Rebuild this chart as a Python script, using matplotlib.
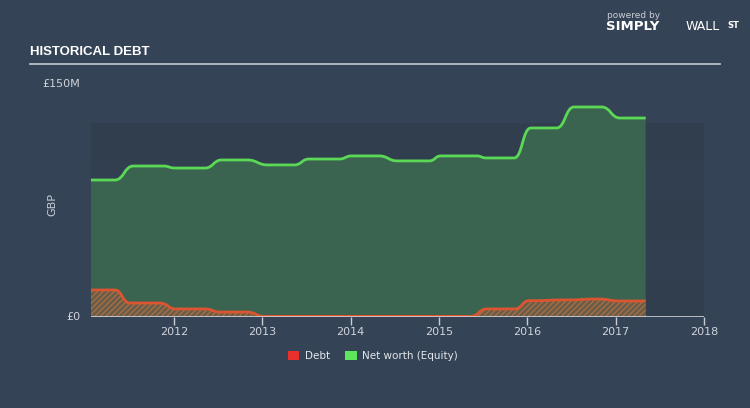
import matplotlib.pyplot as plt
from matplotlib.patches import Patch, PathPatch
from matplotlib.path import Path
import numpy as np

# historical debt vs equity, GBP millions
equity_dates = [2011.06, 2011.33, 2011.54, 2011.88, 2012.01, 2012.35, 2012.54, 2012.83,
                2013.06, 2013.36, 2013.53, 2013.87, 2014.01, 2014.32, 2014.53, 2014.89,
                2015.02, 2015.43, 2015.53, 2015.85, 2016.04, 2016.33, 2016.53, 2016.84,
                2017.05, 2017.34]
equity = [88.2, 88.2, 97.2, 97.2, 95.9, 95.9, 101.1, 101.1,
          97.9, 97.9, 101.7, 101.7, 103.7, 103.7, 100.5, 100.5,
          103.7, 103.7, 102.4, 102.4, 121.7, 121.7, 135.2, 135.2,
          128.1, 128.1]

debt_dates = [2011.06, 2011.33, 2011.5, 2011.84, 2012.02, 2012.35, 2012.52, 2012.83,
              2013.02, 2015.36, 2015.54, 2015.86, 2016.02, 2016.45, 2016.8, 2017.05, 2017.34]
debt = [17.4, 17.4, 9.0, 9.0, 5.2, 5.2, 3.2, 3.2,
        0.4, 0.4, 5.2, 5.2, 10.5, 11.0, 11.6, 10.3, 10.3]

year_ticks = [2012, 2013, 2014, 2015, 2016, 2017, 2018]
band_edges = [0, 25, 50, 75, 100, 125]


def smooth_path(xs, ys, close=False):
    # cubic bezier between points with flat tangents (step-like smoothing)
    verts = [(xs[0], ys[0])]
    codes = [Path.MOVETO]
    for i in range(1, len(xs)):
        dx = (xs[i] - xs[i - 1]) / 2
        verts += [(xs[i - 1] + dx, ys[i - 1]), (xs[i] - dx, ys[i]), (xs[i], ys[i])]
        codes += [Path.CURVE4] * 3
    if close:
        verts += [(xs[-1], 0), (xs[0], 0), (xs[0], ys[0])]
        codes += [Path.LINETO, Path.LINETO, Path.CLOSEPOLY]
    return Path(verts, codes)


BG = '#344356'
fig = plt.figure(figsize=(7.5, 4.08), dpi=100, facecolor=BG)
ax = fig.add_axes([91 / 750, 1 - 317 / 408, (704 - 91) / 750, (317 - 84) / 408])
ax.set_facecolor(BG)
ax.set_xlim(2011.06, 2018.0)
ax.set_ylim(0, 150)

# background bands
band_cols = ['#303e4e', '#323f50']
for i in range(len(band_edges) - 1):
    ax.axhspan(band_edges[i], band_edges[i + 1], xmin=0, xmax=1.004,
               color=band_cols[i % 2], lw=0, zorder=0)

ax.add_patch(PathPatch(smooth_path(equity_dates, equity, close=True),
                       facecolor='#3a6450', lw=0, zorder=1))
ax.add_patch(PathPatch(smooth_path(equity_dates, equity), facecolor='none',
                       edgecolor='#5bd855', lw=2, zorder=4))

ax.add_patch(PathPatch(smooth_path(debt_dates, debt, close=True), facecolor='#685c4b',
                       edgecolor='#a86e40', hatch='//////', lw=0, zorder=2))
ax.add_patch(PathPatch(smooth_path(debt_dates, debt), facecolor='none',
                       edgecolor='#dc5530', lw=2, zorder=3))

for s in ax.spines.values():
    s.set_visible(False)
ax.axhline(0, color='#d0d4da', lw=1.2, zorder=5)
ax.set_yticks([])
ax.set_xticks(year_ticks)
ax.set_xticklabels([str(y) for y in year_ticks])
ax.tick_params(axis='x', colors='#c9ced5', labelsize=8, length=6, width=1, pad=1)
for lbl in ax.get_xticklabels():
    lbl.set_color('#d0d4da')

ax.text(-11 / 613, 0, '£0', transform=ax.transAxes, ha='right', va='center',
        color='#d0d4da', fontsize=8)
ax.text(-11 / 613, 1, '£150M', transform=ax.transAxes, ha='right', va='center',
        color='#d0d4da', fontsize=8)
fig.text(52 / 750, 1 - 205 / 408, 'GBP', rotation=90, ha='center', va='center',
         color='#c9ced5', fontsize=8)

# header
fig.text(30 / 750, 1 - 52 / 408, 'HISTORICAL DEBT', ha='left', va='center', color='white',
         fontsize=9.5, fontweight='bold', family=['Liberation Sans', 'DejaVu Sans'])
fig.add_artist(plt.Line2D([30 / 750, 720 / 750], [1 - 64 / 408, 1 - 64 / 408],
                          color='#c5ccd4', lw=1.2))

# logo text
fig.text(607 / 750, 1 - 15 / 408, 'powered by', color='#c9ced5', fontsize=6.5, va='center')
fig.text(606 / 750, 1 - 27 / 408, 'SIMPLY', color='white', fontsize=9.5, fontweight='bold',
         va='center')
fig.text(686 / 750, 1 - 27 / 408, 'WALL', color='white', fontsize=9, va='center')
fig.text(727 / 750, 1 - 25 / 408, 'ST', color='white', fontsize=6, fontweight='bold',
         va='center')

handles = [Patch(facecolor='#e8312f', edgecolor='none', label='Debt'),
           Patch(facecolor='#5ee65a', edgecolor='none', label='Net worth (Equity)')]
leg = fig.legend(handles=handles, loc='center', bbox_to_anchor=(0.497, 1 - 356 / 408), ncol=2,
                 frameon=False, fontsize=7.5, handlelength=1.1, handleheight=1.0,
                 columnspacing=1.5, handletextpad=0.5)
for t in leg.get_texts():
    t.set_color('#e4e7eb')

fig.savefig('out.png', dpi=100, facecolor=BG)
